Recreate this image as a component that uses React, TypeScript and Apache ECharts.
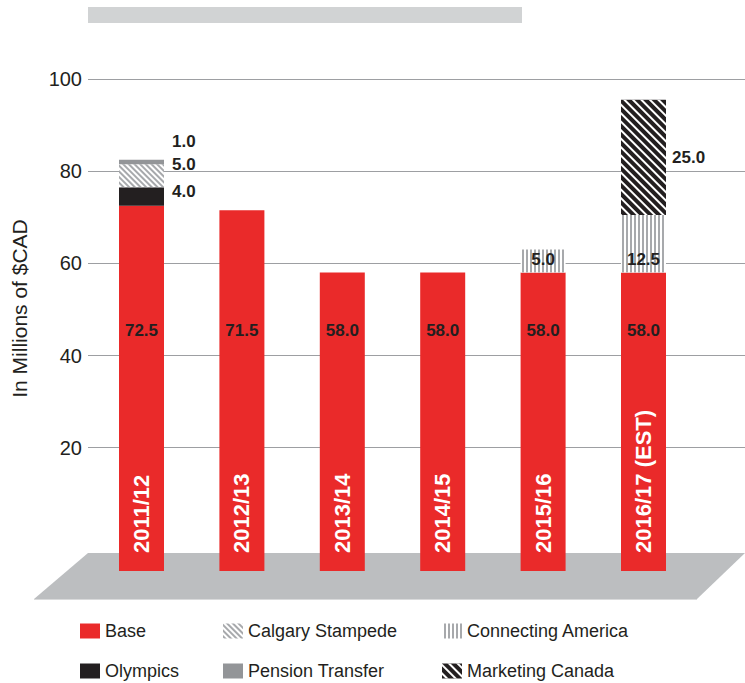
import React, { useEffect, useRef } from "react";
import * as echarts from "echarts";

// ---- data ----
const CATEGORIES = ["2011/12", "2012/13", "2013/14", "2014/15", "2015/16", "2016/17 (EST)"];
const BASE = [72.5, 71.5, 58.0, 58.0, 58.0, 58.0];
const OLYMPICS = [4.0, null, null, null, null, null];
const CALGARY_STAMPEDE = [5.0, null, null, null, null, null];
const PENSION_TRANSFER = [1.0, null, null, null, null, null];
const CONNECTING_AMERICA = [null, null, null, null, 5.0, 12.5];
const MARKETING_CANADA = [null, null, null, null, null, 25.0];
const Y_TICKS = [20, 40, 60, 80, 100];
const Y_TITLE = "In Millions of $CAD";

// ---- layout / style constants ----
const FONT = "'Liberation Sans', Arial, Helvetica, sans-serif";
const INK = "#231f20";
const RED = "#ea2a2a";
const Y_MIN = -6.75; // bars stand on the perspective floor, below the zero line
const Y_MAX = 100;

const fmt = (p: any) => (p.value == null ? "" : Number(p.value).toFixed(1));
const valueLabel = (extra: any) => ({
  show: true,
  color: INK,
  fontFamily: FONT,
  fontWeight: "bold",
  fontSize: 17,
  formatter: fmt,
  ...extra,
});

export default function App() {
  const ref = useRef<HTMLDivElement>(null);

  useEffect(() => {
    if (!ref.current) return;
    const chart = echarts.init(ref.current, null, { renderer: "svg" });

    const extension = CATEGORIES.map(() => Y_MIN);

    const option: any = {
      animation: false,
      backgroundColor: "#ffffff",
      textStyle: { fontFamily: FONT },
      grid: [
        { left: 88, right: 0, top: 79, bottom: 112 },
        { left: 91.3, right: 51.3, top: 79, bottom: 112 },
      ],
      xAxis: [
        { type: "value", gridIndex: 0, show: false, min: 0, max: 1 },
        {
          type: "category",
          gridIndex: 1,
          data: CATEGORIES,
          z: 10,
          axisLine: { show: false, onZero: false },
          axisTick: { show: false },
          axisLabel: {
            inside: true,
            rotate: 90,
            margin: 18,
            color: "#ffffff",
            fontFamily: FONT,
            fontWeight: "bold",
            fontSize: 22,
            interval: 0,
          },
        },
      ],
      yAxis: [
        {
          type: "value",
          gridIndex: 0,
          min: Y_MIN,
          max: Y_MAX,
          name: Y_TITLE,
          nameLocation: "middle",
          nameGap: 58,
          nameTextStyle: {
            color: INK,
            fontFamily: FONT,
            fontSize: 21,
            padding: [0, 0, 0, 33],
          },
          axisLine: { show: false },
          axisTick: { show: false, customValues: Y_TICKS },
          axisLabel: {
            customValues: Y_TICKS,
            color: INK,
            fontFamily: FONT,
            fontSize: 20,
            margin: 6,
          },
          splitLine: { show: true, lineStyle: { color: "#9d9fa2", width: 1 } },
        },
        { type: "value", gridIndex: 1, min: Y_MIN, max: Y_MAX, show: false },
      ],
      legend: [
        ["Base", "Olympics", 80],
        ["Calgary Stampede", "Pension Transfer", 223],
        ["Connecting America", "Marketing Canada", 442],
      ].map(([a, b, left]) => ({
        data: [a, b],
        left,
        top: 622,
        orient: "vertical",
        padding: 0,
        itemWidth: 20,
        itemHeight: 15,
        itemGap: 22,
        icon: "rect",
        selectedMode: false,
        textStyle: { color: INK, fontFamily: FONT, fontSize: 18 },
      })),
      graphic: [
        {
          type: "rect",
          shape: { x: 88, y: 7, width: 434, height: 16 },
          style: { fill: "#d1d3d4" },
          silent: true,
        },
        {
          type: "polygon",
          z: -1,
          shape: { points: [[88, 553], [745, 553], [697, 599], [34, 599]] },
          style: { fill: "#bcbec0" },
          silent: true,
        },
        {
          type: "line",
          z: -1,
          shape: { x1: 34, y1: 599.5, x2: 697, y2: 599.5 },
          style: { stroke: "#d9dadb", lineWidth: 1 },
          silent: true,
        },
      ],
      series: [
        {
          name: "floor",
          type: "bar",
          xAxisIndex: 1,
          yAxisIndex: 1,
          stack: "total",
          barWidth: 45,
          data: extension,
          itemStyle: { color: RED },
          silent: true,
        },
        {
          name: "Base",
          type: "bar",
          xAxisIndex: 1,
          yAxisIndex: 1,
          stack: "total",
          barWidth: 45,
          data: BASE,
          itemStyle: { color: RED },
          label: valueLabel({ position: "insideBottom", distance: 201 }),
        },
        {
          name: "Olympics",
          type: "bar",
          xAxisIndex: 1,
          yAxisIndex: 1,
          stack: "total",
          barWidth: 45,
          data: OLYMPICS,
          itemStyle: { color: INK },
          label: valueLabel({ position: "right", distance: 8, offset: [0, -5] }),
        },
        {
          name: "Calgary Stampede",
          type: "bar",
          xAxisIndex: 1,
          yAxisIndex: 1,
          stack: "total",
          barWidth: 45,
          data: CALGARY_STAMPEDE,
          itemStyle: {
            color: "#ffffff",
            decal: {
              symbol: "rect",
              symbolSize: 1,
              dashArrayX: [1, 0],
              dashArrayY: [2, 2],
              rotation: Math.PI / 4,
              color: "#a7a9ac",
            },
          },
          label: valueLabel({ position: "right", distance: 8, offset: [0, -11] }),
        },
        {
          name: "Pension Transfer",
          type: "bar",
          xAxisIndex: 1,
          yAxisIndex: 1,
          stack: "total",
          barWidth: 45,
          data: PENSION_TRANSFER,
          itemStyle: { color: "#939598" },
          label: valueLabel({ position: "right", distance: 8, offset: [0, -20] }),
        },
        {
          name: "Connecting America",
          type: "bar",
          xAxisIndex: 1,
          yAxisIndex: 1,
          stack: "total",
          barWidth: 45,
          data: CONNECTING_AMERICA,
          itemStyle: {
            color: "#ffffff",
            decal: {
              symbol: "rect",
              symbolSize: 1,
              dashArrayX: [1, 0],
              dashArrayY: [2, 1.6],
              rotation: Math.PI / 2,
              color: "#a7a9ac",
            },
          },
          label: valueLabel({ position: "insideBottom", distance: 5 }),
        },
        {
          name: "Marketing Canada",
          type: "bar",
          xAxisIndex: 1,
          yAxisIndex: 1,
          stack: "total",
          barWidth: 45,
          data: MARKETING_CANADA,
          itemStyle: {
            color: INK,
            decal: {
              symbol: "rect",
              symbolSize: 1,
              dashArrayX: [1, 0],
              dashArrayY: [1.6, 4],
              rotation: Math.PI / 4,
              color: "#ffffff",
            },
          },
          label: valueLabel({ position: "right", distance: 6 }),
        },
      ],
    };

    chart.setOption(option);
    return () => chart.dispose();
  }, []);

  return (
    <div
      ref={ref}
      style={{ position: "absolute", left: 0, top: 0, width: 745, height: 683 }}
    />
  );
}
